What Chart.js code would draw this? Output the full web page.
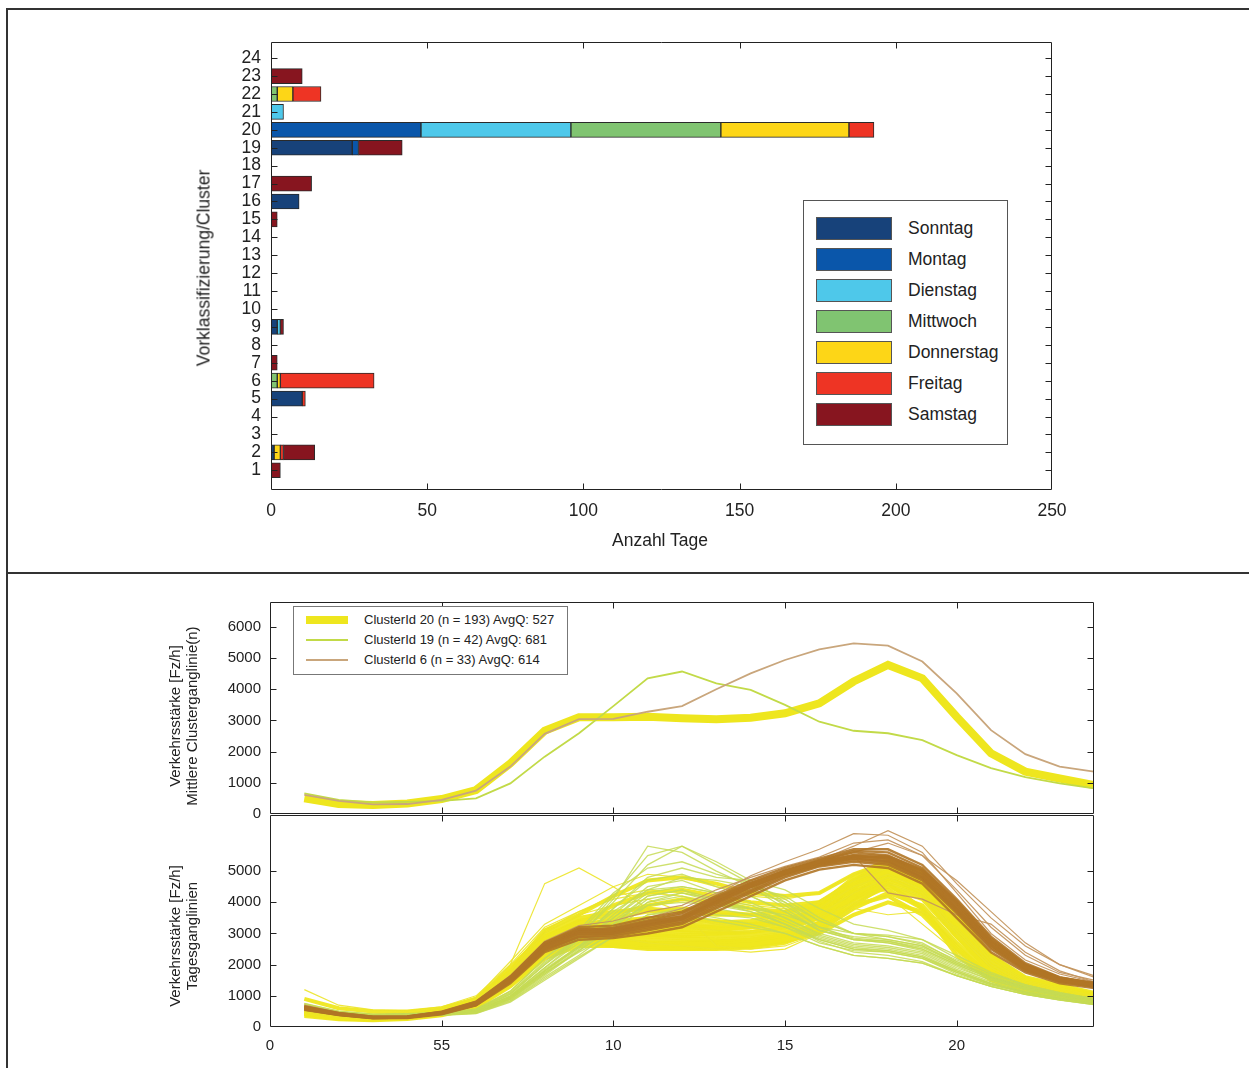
<!DOCTYPE html>
<html>
<head>
<meta charset="utf-8">
<script src="https://cdn.jsdelivr.net/npm/chart.js@4/dist/chart.umd.min.js"></script>
<style>
  html, body { margin:0; padding:0; background:#fff; }
  body { width:1249px; height:1068px; position:relative; overflow:hidden; font-family:"Liberation Sans", Arial, Helvetica, sans-serif; color:#222; }
  canvas { position:absolute; left:0; top:0; }
  .abs { position:absolute; white-space:nowrap; }
  .rot { transform: translate(-50%,-50%) rotate(-90deg); text-align:center; }
  .leg1 { position:absolute; left:803px; top:200px; width:203px; height:243px; border:1px solid #555; background:#fff; }
  .leg1 .sw { position:absolute; left:12px; width:74px; height:21px; border:1px solid #555; }
  .leg1 .tx { position:absolute; left:104px; font-size:17.5px; line-height:23px; }
  .leg2 { position:absolute; left:293px; top:606px; width:273px; height:67px; border:1px solid #777; background:#fff; }
  .leg2 .ln { position:absolute; left:12px; width:42px; }
  .leg2 .tx { position:absolute; left:70px; font-size:13px; line-height:16px; }
</style>
</head>
<body>
<div class="abs" style="left:6px;top:8px;width:1243px;height:1060px;border-left:2px solid #333;border-top:2px solid #333;"></div>
<div class="abs" style="left:6px;top:572px;width:1243px;height:0;border-top:2px solid #333;"></div>

<canvas id="c1" width="1249" height="1068"></canvas>
<canvas id="c2" width="1249" height="1068"></canvas>
<canvas id="c3" width="1249" height="1068"></canvas>

<div class="abs rot" style="left:204px;top:268px;font-size:17.5px;">Vorklassifizierung/Cluster</div>
<div class="abs" style="left:660px;top:540px;transform:translate(-50%,-50%);font-size:17.5px;">Anzahl Tage</div>
<div class="abs rot" style="left:183px;top:716px;font-size:15px;line-height:17px;">Verkehrsstärke [Fz/h]<br>Mittlere Clusterganglinie(n)</div>
<div class="abs rot" style="left:183px;top:936px;font-size:15px;line-height:17px;">Verkehrsstärke [Fz/h]<br>Tagesganglinien</div>

<div class="leg1" id="leg1"></div>
<div class="leg2" id="leg2"></div>

<script>
// ---------- DATA ----------
const clusters = ['1','2','3','4','5','6','7','8','9','10','11','12','13','14','15','16','17','18','19','20','21','22','23','24'];
const weekdays = ['Sonntag','Montag','Dienstag','Mittwoch','Donnerstag','Freitag','Samstag'];
const weekdayColors = ['#17427A','#0A56AA','#4EC8EA','#80C471','#FDD617','#EE3424','#87151F'];
// days per cluster (index = cluster 1..24)
const sonntag    = [0,1,0,0,10,0,0,0,2,0,0,0,0,0,0,9,0,0,26,0,0,0,0,0];
const montag     = [0,0,0,0,0,0,0,0,0,0,0,0,0,0,0,0,0,0,2,48,0,0,0,0];
const dienstag   = [0,0,0,0,0,0,0,0,1,0,0,0,0,0,0,0,0,0,0,48,4,0,0,0];
const mittwoch   = [0,0,0,0,0,2,0,0,0,0,0,0,0,0,0,0,0,0,0,48,0,2,0,0];
const donnerstag = [0,2,0,0,0,1,0,0,0,0,0,0,0,0,0,0,0,0,0,41,0,5,0,0];
const freitag    = [0,1,0,0,1,30,0,0,0,0,0,0,0,0,0,0,0,0,0,8,0,9,0,0];
const samstag    = [3,10,0,0,0,0,2,0,1,0,0,0,0,0,2,0,13,0,14,0,0,0,10,0];
const dayCounts = [sonntag, montag, dienstag, mittwoch, donnerstag, freitag, samstag];
const countTicks = [0,50,100,150,200,250];

const hours = [1,2,3,4,5,6,7,8,9,10,11,12,13,14,15,16,17,18,19,20,21,22,23,24];
const hourTicks = [0,5,10,15,20];
const hourTickLabels = ['0','55','10','15','20'];
const flowTicksUpper = [0,1000,2000,3000,4000,5000,6000];
const flowTicksLower = [0,1000,2000,3000,4000,5000];

const meanLabels = ['ClusterId 20 (n = 193) AvgQ: 527','ClusterId 19 (n = 42) AvgQ: 681','ClusterId 6 (n = 33) AvgQ: 614'];
const mean20 = [500,320,290,340,480,770,1620,2670,3100,3100,3120,3070,3040,3090,3230,3550,4250,4780,4350,3120,1950,1360,1140,930];
const mean19 = [660,450,370,390,420,500,980,1840,2590,3460,4350,4570,4190,3980,3500,2960,2670,2590,2370,1890,1470,1180,980,820];
const mean6  = [610,420,310,320,450,750,1520,2570,3040,3050,3280,3460,4000,4510,4940,5280,5470,5400,4890,3870,2690,1920,1520,1360];

// daily curves, cluster 20 (dense band)
const days20 = [
 [450,300,260,300,420,700,1500,2500,2900,2900,2900,2850,2800,2850,3000,3300,4000,4500,4100,2900,1800,1250,1050,850],
 [550,350,310,370,520,850,1750,2800,3250,3300,3350,3300,3250,3300,3450,3800,4500,5000,4600,3300,2100,1450,1200,1000],
 [600,380,330,380,560,900,1900,3000,3500,3700,3800,3700,3600,3600,3700,4000,4700,5200,4800,3500,2200,1550,1300,1050],
 [400,270,240,290,400,650,1350,2300,2700,2700,2650,2600,2600,2650,2800,3100,3800,4300,3900,2700,1700,1200,1000,800],
 [500,330,290,340,470,760,1600,2700,3300,3900,4300,4400,4200,4000,3900,4000,4600,5100,4700,3300,2000,1400,1150,950],
 [480,310,280,330,460,730,1550,2550,3000,2800,2700,2650,2700,2750,2900,3250,3900,4200,3600,2500,1700,1250,1050,880],
 [900,600,500,500,600,900,1800,3100,3600,4200,4700,4800,4600,4300,4200,4300,4900,5300,4900,3600,2300,1600,1350,1100],
 [350,250,220,260,380,620,1300,2200,2600,2600,2500,2500,2550,2600,2750,3000,3600,4000,3700,2600,1600,1150,950,780],
 [550,340,300,350,500,800,1700,2750,3050,2650,2600,2550,2600,2650,2800,3200,4200,4900,4500,3200,1950,1350,1150,950],
 [500,320,290,340,490,780,1650,2650,3100,3300,3500,3500,3400,3300,3400,3700,4100,4600,3800,2300,1500,1100,950,800],
 [620,400,340,380,540,850,1800,2900,3300,3400,3500,3450,3350,3400,3600,3900,4400,4400,3800,2500,1600,1200,1000,850],
 [450,300,270,320,450,740,1550,2600,3050,3200,3200,3100,3100,3200,3400,3800,4600,5200,4700,3400,2100,1450,1200,950],
 [520,330,300,350,500,780,1650,2700,3200,3500,3700,3800,3700,3600,3500,3700,4500,5000,4500,3100,1950,1350,1100,900],
 [580,360,310,360,510,820,1700,2850,3400,3600,3900,4100,4000,3800,3700,3900,4800,5400,5000,3700,2300,1550,1250,1000],
 [430,290,250,300,430,690,1450,2450,2800,2750,2700,2700,2700,2800,2950,3350,4300,4800,4300,3000,1800,1250,1050,850],
 [420,280,250,290,410,680,1400,2350,2750,2600,2550,2500,2500,2550,2700,3100,3900,4600,4200,2900,1750,1250,1000,820],
 [470,300,270,320,440,720,1500,2450,2850,2750,2700,2650,2650,2700,2850,3300,4100,4700,4300,3000,1850,1300,1080,880],
 [530,340,300,350,490,790,1650,2750,3150,3000,2950,2900,2900,2950,3100,3500,4400,5000,4600,3300,2050,1400,1150,940],
 [560,350,310,360,510,810,1700,2800,3250,3150,3100,3050,3000,3050,3200,3600,4500,5100,4800,3400,2150,1450,1180,960],
 [490,320,280,330,470,760,1600,2650,3050,3050,3000,2950,3000,3050,3200,3500,4300,4900,4500,3200,2000,1350,1130,920],
 [600,370,320,370,540,840,1750,2900,3400,3300,3250,3200,3150,3200,3350,3700,4700,5300,4900,3500,2200,1500,1220,980],
 [460,300,260,310,440,720,1500,2550,2950,2850,2800,2750,2750,2800,2950,3350,4200,4750,4400,3100,1900,1300,1080,870],
 [510,330,290,340,480,770,1620,2700,3150,3200,3300,3250,3200,3200,3300,3650,4550,5150,4700,3350,2100,1420,1160,940]
];
// cluster 20, thin outlying days
const days20Thin = [
 [500,330,290,340,480,800,2000,4600,5100,4500,3800,3500,3300,3200,3300,3600,4300,4800,4300,3000,1900,1300,1100,900],
 [700,480,420,450,600,950,2100,3300,3900,4500,4900,4800,4500,4200,4100,4300,4900,5300,4800,3500,2200,1500,1250,1000],
 [1200,700,550,520,650,1000,2000,3200,3700,4200,4400,4300,4100,3900,3800,4000,4700,5100,4600,3400,2100,1450,1200,980],
 [450,300,270,320,450,720,1500,2600,3000,3100,3300,3200,3100,3050,3200,3500,4000,4200,3300,2400,1600,1150,950,800],
 [500,320,280,330,470,750,1600,2700,3100,2900,2700,2600,2500,2400,2500,3000,3800,3600,3700,3200,2000,1350,1100,900],
 [550,350,300,340,480,780,1700,3000,3600,3900,4100,3700,2600,2500,2600,3000,3900,4600,4200,3000,1900,1300,1100,900],
 [600,380,320,360,500,820,1800,3100,3700,4100,4300,4200,4000,3800,3700,3800,4500,4900,4400,3100,2000,1400,1150,940]
];
// cluster 19 days
const days19 = [
 [650,440,360,380,400,480,950,1800,2600,3600,4500,4700,4300,4000,3500,2950,2650,2550,2350,1850,1450,1150,950,800],
 [700,480,390,410,440,520,1050,2000,2900,4000,5200,5800,5300,4700,4000,3200,2800,2700,2500,2000,1550,1250,1050,880],
 [600,420,340,360,380,450,850,1600,2300,3100,3900,4100,3800,3600,3200,2700,2450,2400,2200,1750,1350,1100,900,750],
 [750,500,400,420,460,560,1100,2100,2900,4100,5800,5600,5000,4500,3800,3100,2800,2700,2450,1950,1500,1200,1000,850],
 [620,430,350,370,400,470,900,1700,2500,3300,4200,4400,4000,3800,3400,2900,2600,2500,2300,1800,1400,1120,930,780],
 [680,460,380,400,430,520,1000,1900,2700,3500,4300,4500,4300,4200,3700,3100,2800,2750,2500,2000,1550,1250,1020,860],
 [640,440,360,380,410,490,950,1750,2400,3000,3600,3800,3600,3500,3200,2800,2500,2400,2200,1700,1350,1100,900,750],
 [700,470,380,400,440,540,1050,2000,2800,3800,4700,4900,4500,4200,3700,3100,2900,2800,2600,2100,1650,1300,1080,900],
 [660,450,370,390,420,500,980,1850,2600,3400,4200,4400,4100,3900,3500,3000,2700,2600,2400,1900,1500,1200,980,820],
 [600,410,340,360,390,460,880,1650,2450,3200,4000,4200,3900,3700,3300,2800,2500,2450,2250,1800,1400,1120,920,770],
 [720,480,390,410,450,550,1150,2200,3100,4300,5100,5300,4900,4600,4100,3400,3000,2900,2650,2150,1700,1350,1100,920],
 [580,400,330,350,370,430,800,1500,2200,2900,3600,3700,3500,3300,3000,2600,2300,2200,2050,1650,1300,1050,870,720],
 [620,430,350,370,400,470,920,1750,2550,3500,4400,4800,4700,4500,4200,3500,3000,2900,2700,2100,1600,1250,1000,830],
 [680,460,380,400,430,510,1000,1900,2800,3800,4800,5100,4800,4700,4400,3800,3300,3100,2800,2200,1700,1350,1100,900],
 [590,410,340,360,380,440,830,1550,2250,2900,3500,3600,3400,3200,3000,2600,2300,2200,2050,1650,1300,1050,870,730],
 [710,480,390,410,450,540,1080,2050,2850,3700,4400,4500,4300,4400,4000,3400,3000,2800,2600,2050,1600,1280,1050,870],
 [650,450,360,380,420,500,960,1800,2600,3300,3900,4000,3900,3800,3600,3200,3000,2950,2800,2300,1750,1350,1080,880],
 [600,420,350,370,400,470,900,1700,2450,3200,4000,4300,4100,3800,3300,2750,2400,2300,2100,1650,1300,1050,860,720],
 [760,510,410,430,470,580,1150,2200,3000,4200,5500,5800,5200,4600,3900,3200,2850,2750,2550,2050,1600,1300,1080,900],
 [640,440,360,380,410,490,950,1800,2550,3300,4100,4300,4000,3700,3300,2850,2550,2450,2250,1750,1380,1100,910,760]
];
// cluster 6 days (dense) and lighter outlying days
const days6 = [
 [600,410,300,310,440,740,1500,2550,3000,3000,3250,3450,4000,4500,4950,5300,5500,5400,4900,3850,2650,1900,1500,1350],
 [650,440,330,340,480,800,1600,2700,3200,3250,3500,3700,4200,4700,5100,5400,5700,5700,5200,4100,2900,2050,1600,1400],
 [570,390,290,300,420,700,1450,2450,2900,2900,3100,3300,3800,4300,4800,5150,5300,5200,4700,3650,2500,1800,1450,1300],
 [620,420,310,320,460,760,1550,2600,3050,3100,3350,3550,4100,4600,5000,5350,5600,5500,5000,3950,2750,1950,1550,1380],
 [550,380,280,290,410,690,1400,2400,2800,2850,3000,3200,3700,4200,4700,5050,5200,5100,4600,3500,2400,1750,1400,1250],
 [600,410,300,310,440,740,1520,2580,3050,3050,3300,3480,4050,4550,4950,5250,5450,5350,4850,3800,2650,1900,1500,1330],
 [580,400,300,310,430,720,1480,2500,2950,3000,3200,3400,3900,4400,4900,5200,5400,5300,4800,3750,2600,1850,1480,1320],
 [620,420,310,320,450,750,1530,2600,3050,3100,3300,3500,4000,4500,4900,5250,5450,5450,5000,3950,2750,1950,1550,1380],
 [590,400,300,310,440,730,1500,2550,3000,3020,3250,3450,3950,4480,4930,5280,5480,5420,4920,3880,2700,1930,1520,1360],
 [640,430,320,330,470,770,1570,2650,3120,3150,3380,3550,4080,4580,5020,5330,5650,5600,5100,4000,2800,2000,1580,1400],
 [560,390,290,300,430,710,1460,2480,2880,2950,3150,3350,3850,4350,4850,5180,5350,5250,4750,3700,2550,1820,1460,1290],
 [610,420,310,320,450,760,1560,2620,3100,3180,3420,3650,4150,4620,5000,5300,5520,5480,5050,4050,2850,2000,1580,1420],
 [660,450,330,340,490,810,1620,2700,3150,3080,3300,3480,4020,4500,4920,5250,5400,5320,4800,3780,2620,1880,1500,1330]
];
const days6Light = [
 [700,460,340,350,500,820,1650,2750,3250,3400,3700,3900,4400,4800,5150,5450,5900,6000,5500,4400,3200,2300,1750,1500],
 [640,430,320,330,470,780,1580,2650,3100,3150,3400,3600,4150,4650,5050,5350,5800,6300,5800,4600,3500,2600,2000,1600],
 [660,450,330,340,480,790,1600,2650,3150,3100,3350,3500,4050,4600,5000,5300,5500,4300,4100,3600,3300,2400,1800,1450],
 [610,420,310,320,450,750,1540,2620,3080,3120,3380,3620,4250,4850,5300,5700,6200,6150,5600,4300,3000,2150,1700,1450],
 [630,430,320,330,460,770,1560,2600,3050,3200,3500,3800,4300,4700,5000,5300,5600,5900,5500,4700,3700,2700,2000,1650]
];

// ---------- PLUGIN: box + inward ticks ----------
const boxTicks = {
  id: 'boxTicks',
  afterDraw(chart, args, o) {
    const {ctx, chartArea: a} = chart;
    const sx = chart.scales.x, sy = chart.scales.y;
    const L = o.len || 6;
    ctx.save();
    ctx.strokeStyle = '#222';
    ctx.lineWidth = 1;
    ctx.beginPath();
    const l = Math.round(a.left) + 0.5, r = Math.round(a.right) - 0.5;
    const t = Math.round(a.top) + 0.5, b = Math.round(a.bottom) - 0.5;
    ctx.rect(l, t, r - l, b - t);
    sx.ticks.forEach(tk => {
      const p = Math.round(sx.getPixelForValue(tk.value)) + 0.5;
      if (p <= l + 1 || p >= r - 1) return;
      ctx.moveTo(p, b); ctx.lineTo(p, b - L);
      ctx.moveTo(p, t); ctx.lineTo(p, t + L);
    });
    sy.ticks.forEach(tk => {
      const p = Math.round(sy.getPixelForValue(tk.value)) + 0.5;
      if (p <= t + 1 || p >= b - 1) return;
      ctx.moveTo(l, p); ctx.lineTo(l + L, p);
      ctx.moveTo(r, p); ctx.lineTo(r - L, p);
    });
    ctx.stroke();
    ctx.restore();
  }
};

const FONT = '"Liberation Sans", Arial, Helvetica, sans-serif';
Chart.defaults.font.family = FONT;
Chart.defaults.color = '#222';
const plain = v => String(v);

// ---------- CHART 1: stacked horizontal bars ----------
const barDatasets = weekdays.map((name, k) => ({
  label: name,
  data: dayCounts[k].map((v, i) => v > 0 ? {x: v, y: i + 1} : null).filter(p => p),
  backgroundColor: weekdayColors[k],
  borderColor: '#2a2a2a',
  borderWidth: 1,
  borderSkipped: false,
  barThickness: 15
}));

new Chart(document.getElementById('c1'), {
  type: 'bar',
  data: { datasets: barDatasets },
  options: {
    indexAxis: 'y',
    responsive: false,
    animation: false,
    devicePixelRatio: 1,
    layout: { padding: { left: 0, top: 42, right: 1249 - 1052, bottom: 1068 - 490 - 40 } },
    plugins: { legend: { display: false }, tooltip: { enabled: false }, boxTicks: { len: 6 } },
    scales: {
      x: {
        type: 'linear', position: 'bottom', min: 0, max: 250, stacked: true,
        grid: { display: false, drawTicks: false }, border: { display: false },
        afterBuildTicks: s => { s.ticks = countTicks.map(v => ({ value: v })); },
        ticks: { padding: 11, font: { size: 17.5 }, color: '#222', autoSkip: false, callback: plain },
        afterFit: s => { s.height = 40; }
      },
      y: {
        type: 'linear', position: 'left', min: -0.1, max: 24.9, stacked: true, offset: false,
        grid: { display: false, drawTicks: false, offset: false }, border: { display: false },
        afterBuildTicks: s => { s.ticks = clusters.map((c, i) => ({ value: i + 1 })); },
        ticks: { padding: 10, font: { size: 17.5 }, color: '#222', autoSkip: false,
                 callback: (v, i) => clusters[i] },
        afterFit: s => { s.width = 271; }
      }
    }
  },
  plugins: [boxTicks]
});

// ---------- CHART 2: mean cluster curves ----------
const toPts = arr => arr.map((v, i) => ({ x: hours[i], y: v }));

new Chart(document.getElementById('c2'), {
  type: 'line',
  data: { datasets: [
    { label: meanLabels[0], data: toPts(mean20), borderColor: '#EEE61E', borderWidth: 8, pointRadius: 0, order: 3 },
    { label: meanLabels[1], data: toPts(mean19), borderColor: '#C2DA48', borderWidth: 1.8, pointRadius: 0, order: 2 },
    { label: meanLabels[2], data: toPts(mean6),  borderColor: '#C9A67C', borderWidth: 1.8, pointRadius: 0, order: 1 }
  ]},
  options: {
    responsive: false, animation: false, devicePixelRatio: 1,
    layout: { padding: { left: 0, top: 602, right: 1249 - 1094, bottom: 1068 - 814 } },
    plugins: { legend: { display: false }, tooltip: { enabled: false }, boxTicks: { len: 6 } },
    scales: {
      x: {
        type: 'linear', min: 0, max: 24,
        grid: { display: false, drawTicks: false }, border: { display: false },
        afterBuildTicks: s => { s.ticks = hourTicks.map(v => ({ value: v })); },
        ticks: { display: false },
        afterFit: s => { s.height = 0; }
      },
      y: {
        type: 'linear', min: 0, max: 6800,
        grid: { display: false, drawTicks: false }, border: { display: false },
        afterBuildTicks: s => { s.ticks = flowTicksUpper.map(v => ({ value: v })); },
        ticks: { padding: 9, font: { size: 15 }, color: '#222', autoSkip: false, callback: plain },
        afterFit: s => { s.width = 270; }
      }
    }
  },
  plugins: [boxTicks]
});

// ---------- CHART 3: daily curves ----------
const dayDatasets = [];
days20.forEach(d => dayDatasets.push({ data: toPts(d), borderColor: 'rgba(239,231,30,0.95)', borderWidth: 4, pointRadius: 0, order: 4 }));
days20Thin.forEach(d => dayDatasets.push({ data: toPts(d), borderColor: 'rgba(236,228,40,0.9)', borderWidth: 1.2, pointRadius: 0, order: 3 }));
days19.forEach(d => dayDatasets.push({ data: toPts(d), borderColor: 'rgba(198,218,84,0.85)', borderWidth: 1.3, pointRadius: 0, order: 2 }));
days6Light.forEach(d => dayDatasets.push({ data: toPts(d), borderColor: 'rgba(196,150,95,0.95)', borderWidth: 1.2, pointRadius: 0, order: 1 }));
days6.forEach(d => dayDatasets.push({ data: toPts(d), borderColor: 'rgba(176,118,38,0.9)', borderWidth: 2.4, pointRadius: 0, order: 0 }));

new Chart(document.getElementById('c3'), {
  type: 'line',
  data: { datasets: dayDatasets },
  options: {
    responsive: false, animation: false, devicePixelRatio: 1,
    layout: { padding: { left: 0, top: 815, right: 1249 - 1094, bottom: 0 } },
    plugins: { legend: { display: false }, tooltip: { enabled: false }, boxTicks: { len: 6 } },
    scales: {
      x: {
        type: 'linear', min: 0, max: 24,
        grid: { display: false, drawTicks: false }, border: { display: false },
        afterBuildTicks: s => { s.ticks = hourTicks.map(v => ({ value: v })); },
        ticks: { padding: 10, font: { size: 15 }, color: '#222', autoSkip: false,
                 callback: (v, i) => hourTickLabels[i] },
        afterFit: s => { s.height = 1068 - 1027; }
      },
      y: {
        type: 'linear', min: 0, max: 6800,
        grid: { display: false, drawTicks: false }, border: { display: false },
        afterBuildTicks: s => { s.ticks = flowTicksLower.map(v => ({ value: v })); },
        ticks: { padding: 9, font: { size: 15 }, color: '#222', autoSkip: false, callback: plain },
        afterFit: s => { s.width = 270; }
      }
    }
  },
  plugins: [boxTicks]
});

// ---------- LEGENDS ----------
const leg1 = document.getElementById('leg1');
weekdays.forEach((name, k) => {
  const top = 16 + k * 31;
  const sw = document.createElement('div');
  sw.className = 'sw'; sw.style.top = top + 'px'; sw.style.background = weekdayColors[k];
  const tx = document.createElement('div');
  tx.className = 'tx'; tx.style.top = top + 'px'; tx.textContent = name;
  leg1.appendChild(sw); leg1.appendChild(tx);
});
const leg2 = document.getElementById('leg2');
const legLineStyle = [
  { color: '#EEE61E', h: 8 },
  { color: '#C2DA48', h: 2 },
  { color: '#C9A67C', h: 2 }
];
meanLabels.forEach((name, k) => {
  const cy = 13 + k * 20;
  const ln = document.createElement('div');
  ln.className = 'ln';
  ln.style.top = (cy - legLineStyle[k].h / 2) + 'px';
  ln.style.height = legLineStyle[k].h + 'px';
  ln.style.background = legLineStyle[k].color;
  const tx = document.createElement('div');
  tx.className = 'tx'; tx.style.top = (cy - 8) + 'px'; tx.textContent = name;
  leg2.appendChild(ln); leg2.appendChild(tx);
});
</script>
</body>
</html>
